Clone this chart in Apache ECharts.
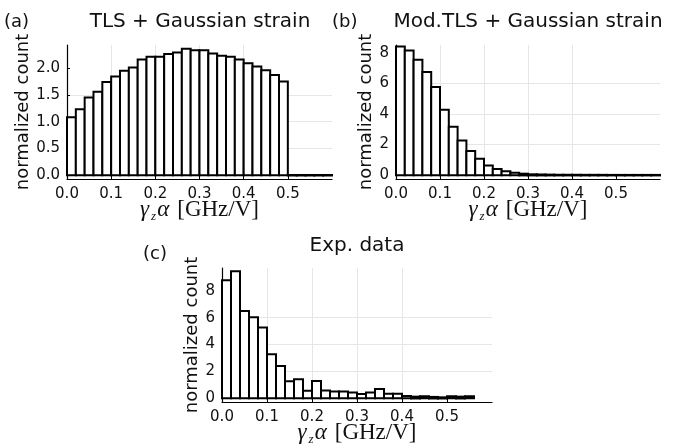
<!DOCTYPE html>
<html><head><meta charset="utf-8">
<script src="https://cdn.jsdelivr.net/npm/echarts@6/dist/echarts.min.js"></script>
<style>html,body{margin:0;padding:0;background:#fff}#c{width:693px;height:448px}</style>
</head><body><div id="c"></div>
<script>
// ---- data ----
const binEdgesAB = [0,0.02,0.04,0.06,0.08,0.10,0.12,0.14,0.16,0.18,0.20,0.22,0.24,0.26,0.28,0.30,
                    0.32,0.34,0.36,0.38,0.40,0.42,0.44,0.46,0.48,0.50,0.52,0.54,0.56,0.58,0.60];
const binEdgesC  = [0,0.02,0.04,0.06,0.08,0.10,0.12,0.14,0.16,0.18,0.20,0.22,0.24,0.26,0.28,0.30,
                    0.32,0.34,0.36,0.38,0.40,0.42,0.44,0.46,0.48,0.50,0.52,0.54,0.56];
const heightsA = [1.08,1.23,1.45,1.56,1.74,1.84,1.95,2.01,2.16,2.21,2.21,2.26,2.29,2.36,2.33,2.33,
                  2.27,2.23,2.21,2.16,2.09,2.03,1.96,1.87,1.75,0,0,0,0,0];
const heightsB = [8.40,8.14,7.54,6.74,5.76,4.28,3.17,2.26,1.58,1.08,0.63,0.41,0.26,0.15,0.08,0.04,
                  0.03,0.02,0.01,0.01,0.01,0.005,0.005,0.005,0,0,0,0,0,0];
const heightsC = [8.78,9.45,6.49,6.04,5.26,3.28,2.41,1.26,1.41,0.56,1.28,0.58,0.50,0.50,0.42,0.32,
                  0.42,0.68,0.33,0.33,0.16,0.10,0.15,0.08,0.05,0.15,0.10,0.15];
const xTicks  = [0,0.1,0.2,0.3,0.4,0.5];
const yTicksA = [0,0.5,1.0,1.5,2.0];
const yTicksB = [0,2,4,6,8];
const yTicksC = [0,2,4,6,8];
const titles  = ['TLS + Gaussian strain','Mod.TLS + Gaussian strain','Exp. data'];
const tags    = ['(a)','(b)','(c)'];
const yName   = 'normalized count';
const xName   = '{g|γ}{s|z}{g|α}{sp| }{t|[GHz/V]}';

// ---- chart ----
const FONT = 'DejaVu Sans';
const chart = echarts.init(document.getElementById('c'), null, {renderer:'canvas'});

const grids = [
  {left:67, top:45, width:265, height:134},
  {left:396, top:45, width:264, height:134},
  {left:222, top:268, width:270, height:134}
];
const yRanges = [[-0.07,2.43],[-0.25,8.5],[-0.28,9.7]];
const yTicks = [yTicksA,yTicksB,yTicksC];
const yFmt = [v=>v.toFixed(1), v=>String(v), v=>String(v)];
const yNameGap = [27,20,21];

function xAxisFor(i){
  return {
    type:'value', gridIndex:i, min:0, max:0.6, splitNumber:6,
    axisLine:{show:true, onZero:false, lineStyle:{color:'#000', width:1.2}},
    axisTick:{show:true, inside:true, length:3, customValues:xTicks, lineStyle:{color:'#000'}},
    axisLabel:{customValues:xTicks, formatter:v=>v.toFixed(1), color:'#111', fontFamily:FONT, fontSize:15, margin:8},
    splitLine:{show:true, showMinLine:false, showMaxLine:false, lineStyle:{color:'#e6e6e6', width:1}},
    name:xName, nameLocation:'middle', nameGap:17, nameMoveOverlap:false,
    nameTextStyle:{color:'#111', rich:{
      g:{fontFamily:'Liberation Serif', fontStyle:'italic', fontSize:23, color:'#111'},
      s:{fontFamily:'Liberation Serif', fontStyle:'italic', fontSize:13, color:'#111', padding:[14,1,0,2]},
      sp:{fontFamily:'Liberation Serif', fontSize:23, width:8},
      t:{fontFamily:'Liberation Serif', fontSize:23, color:'#111'}
    }}
  };
}
function yAxisFor(i){
  return {
    type:'value', gridIndex:i, min:yRanges[i][0], max:yRanges[i][1], splitNumber:5,
    axisLine:{show:true, onZero:false, lineStyle:{color:'#000', width:1.2}},
    axisTick:{show:true, inside:true, length:3, customValues:yTicks[i], lineStyle:{color:'#000'}},
    axisLabel:{customValues:yTicks[i], formatter:yFmt[i], color:'#111', fontFamily:FONT, fontSize:15, margin:7},
    splitLine:{show:true, showMinLine:false, showMaxLine:false, lineStyle:{color:'#e6e6e6', width:1}},
    name:yName, nameLocation:'middle', nameGap:yNameGap[i],
    nameTextStyle:{color:'#111', fontFamily:FONT, fontSize:18}
  };
}
function histSeries(i, edges, heights){
  const data = heights.map((h,k)=>[edges[k], edges[k+1], h]);
  return {
    type:'custom', xAxisIndex:i, yAxisIndex:i, data, encode:{x:[0,1], y:2},
    silent:true, animation:false, clip:false,
    renderItem(params, api){
      const p0 = api.coord([api.value(0), api.value(2)]);
      const p1 = api.coord([api.value(1), 0]);
      const h = p1[1]-p0[1];
      if (h < 1.5) {
        return {type:'line', shape:{x1:p0[0]-1, y1:p1[1]-h/2, x2:p1[0]+1, y2:p1[1]-h/2},
                style:{stroke:'#000', lineWidth:2.5+h}};
      }
      return {type:'rect', shape:{x:p0[0], y:p0[1], width:p1[0]-p0[0], height:h},
              style:{fill:'#fff', stroke:'#000', lineWidth:2}};
    }
  };
}
const titlePos = [[200,22],[528,22],[357,246]];
const tagPos = [[4,22],[332,22],[143,254]];
const graphic = [];
titles.forEach((t,i)=>graphic.push({type:'text', x:titlePos[i][0], y:titlePos[i][1],
  style:{text:t, font:'20px "DejaVu Sans"', fill:'#111', textAlign:'center', textVerticalAlign:'middle'}}));
tags.forEach((t,i)=>graphic.push({type:'text', x:tagPos[i][0], y:tagPos[i][1],
  style:{text:t, font:'18px "DejaVu Sans"', fill:'#111', textAlign:'left', textVerticalAlign:'middle'}}));

chart.setOption({
  backgroundColor:'#fff',
  animation:false,
  grid:grids,
  xAxis:[0,1,2].map(xAxisFor),
  yAxis:[0,1,2].map(yAxisFor),
  series:[histSeries(0,binEdgesAB,heightsA), histSeries(1,binEdgesAB,heightsB), histSeries(2,binEdgesC,heightsC)],
  graphic
});
</script></body></html>
